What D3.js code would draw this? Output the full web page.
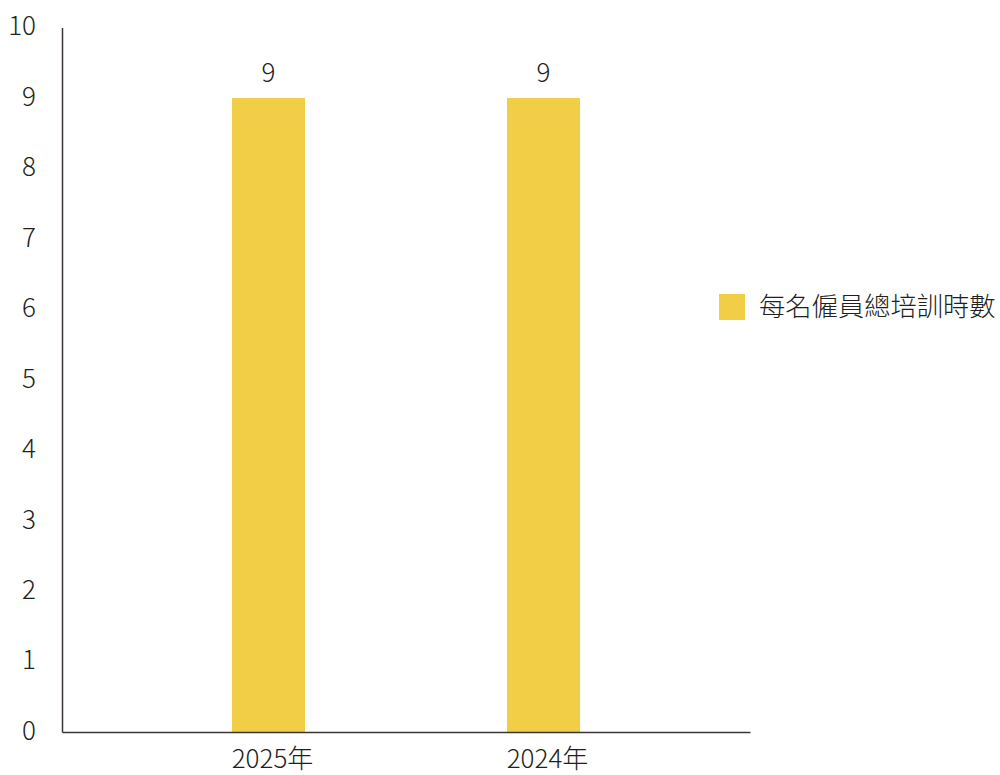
<!DOCTYPE html>
<html>
<head>
<meta charset="utf-8">
<script src="https://cdn.jsdelivr.net/npm/d3@7"></script>
<style>
  html, body { margin: 0; padding: 0; background: #ffffff; }
  svg text { font-family: "Noto Sans CJK TC", "Noto Sans", sans-serif; fill: #231f20; font-weight: 300; }
</style>
</head>
<body>
<svg id="chart" width="1000" height="775"></svg>
<script>
// Training hours per employee
const categories = ["2025年", "2024年"];
const values = [9, 9];
const seriesName = "每名僱員總培訓時數";
const yTicks = [0, 1, 2, 3, 4, 5, 6, 7, 8, 9, 10];

const svg = d3.select("#chart");
const plot = { left: 62, right: 750, top: 27.6, bottom: 732 };
const axisColor = "#3b3536";
const barColor = "#f2ce46";

const y = d3.scaleLinear().domain([0, 10]).range([plot.bottom, plot.top]);
const x = d3.scaleBand()
  .domain(categories)
  .range([plot.left, plot.right])
  .paddingInner(0.7345)
  .paddingOuter(0.618);

const rows = categories.map((c, i) => ({ c, v: values[i] }));

// Bars
svg.append("g").selectAll("rect")
  .data(rows)
  .join("rect")
  .attr("x", d => x(d.c))
  .attr("y", d => y(d.v))
  .attr("width", x.bandwidth())
  .attr("height", d => y(0) - y(d.v))
  .attr("fill", barColor);

// Value labels
svg.append("g").selectAll("text")
  .data(rows)
  .join("text")
  .attr("x", d => x(d.c) + x.bandwidth() / 2)
  .attr("y", d => y(d.v) - 16)
  .attr("text-anchor", "middle")
  .style("font-size", "26px")
  .text(d => d.v);

// Y axis
const yAxis = svg.append("g")
  .attr("transform", `translate(${plot.left},0)`)
  .call(d3.axisLeft(y).tickValues(yTicks).tickSize(0).tickPadding(26).tickFormat(d3.format("d")));
yAxis.select(".domain").attr("stroke", axisColor).attr("stroke-width", 1.5);
yAxis.selectAll("text")
  .style("font-size", "26px")
  .attr("dy", "0.32em")
  .attr("transform", "translate(0,-1)");

// X axis
const xAxis = svg.append("g")
  .attr("transform", `translate(0,${plot.bottom})`)
  .call(d3.axisBottom(x).tickSize(0).tickPadding(18));
xAxis.select(".domain").attr("stroke", axisColor).attr("stroke-width", 1.5);
xAxis.selectAll("text")
  .style("font-size", "26px")
  .attr("dx", 4);

// Legend
const legend = svg.append("g").attr("transform", "translate(719,294)");
legend.append("rect").attr("width", 26).attr("height", 26).attr("fill", barColor);
legend.append("text")
  .attr("x", 40)
  .attr("y", 13)
  .attr("dy", "0.36em")
  .style("font-size", "26.3px")
  .text(seriesName);
</script>
</body>
</html>
